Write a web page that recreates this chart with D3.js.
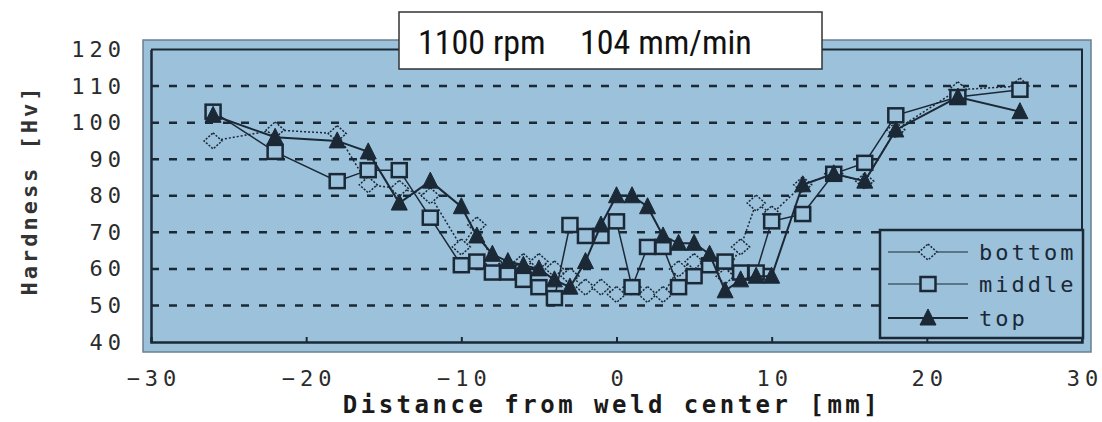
<!DOCTYPE html>
<html>
<head>
<meta charset="utf-8">
<script src="https://cdnjs.cloudflare.com/ajax/libs/d3/7.8.5/d3.min.js"></script>
<style>
    html, body { margin: 0; padding: 0; background: #ffffff; }
    svg { display: block; }
    .tick text { font-family: "DejaVu Sans Mono", monospace; font-size: 22px; fill: #2b2b2b; letter-spacing: 5px; }
</style>
</head>
<body>
<svg id="chart" width="1102" height="422"></svg>
<script>
var distance = [-26, -22, -18, -16, -14, -12, -10, -9, -8, -7, -6, -5, -4, -3, -2, -1, 0,
    1, 2, 3, 4, 5, 6, 7, 8, 9, 10, 12, 14, 16, 18, 22, 26];
var bottom = [95, 98, 97, 83, 82, 80, 66, 72, 62, 61, 62, 62, 60, 58, 55, 55, 53,
    55, 53, 53, 60, 62, 62, 58, 66, 78, 75, 83, 86, 84, 98, 109, 110];
var middle = [103, 92, 84, 87, 87, 74, 61, 62, 59, 59, 57, 55, 52, 72, 69, 69, 73,
    55, 66, 66, 55, 58, 61, 62, 59, 59, 73, 75, 86, 89, 102, 107, 109];
var top_ = [102, 96, 95, 92, 78, 84, 77, 69, 64, 62, 61, 60, 57, 55, 62, 72, 80,
    80, 77, 69, 67, 67, 64, 54, 57, 58, 58, 83, 86, 84, 98, 107, 103];
var seriesNames = ['bottom', 'middle', 'top'];
var xTicks = [-30, -20, -10, 0, 10, 20, 30];
var yTicks = [40, 50, 60, 70, 80, 90, 100, 110, 120];
var gridValues = [50, 60, 70, 80, 90, 100, 110];
var titleParts = ['1100 rpm', '104 mm/min'];

(function () {

    var BG = '#9bc1db',
        INK = '#1b2836';

    var svg = d3.select('#chart'),
        x = d3.scaleLinear().domain([-30, 30]).range([151, 1082]),
        y = d3.scaleLinear().domain([40, 120]).range([342, 49.5]);

    // outer panel
    svg.append('rect')
        .attr('x', 143).attr('y', 40)
        .attr('width', 948).attr('height', 312)
        .attr('fill', BG)
        .attr('stroke', '#687f91')
        .attr('stroke-width', 1.5);

    // dashed grid
    svg.append('g')
        .selectAll('line')
        .data(gridValues)
        .join('line')
        .attr('x1', x(-30)).attr('x2', x(30))
        .attr('y1', function (d) { return y(d); })
        .attr('y2', function (d) { return y(d); })
        .attr('stroke', INK)
        .attr('stroke-width', 2.5)
        .attr('stroke-dasharray', '8,10');

    // inner frame
    svg.append('path')
        .attr('d', 'M' + x(-30) + ',' + y(120) + 'H' + x(30) + 'V' + y(40))
        .attr('fill', 'none')
        .attr('stroke', INK)
        .attr('stroke-width', 2);

    var xAxis = svg.append('g')
        .attr('transform', 'translate(0,' + y(40) + ')')
        .call(d3.axisBottom(x)
            .tickValues(xTicks)
            .tickSize(-5)
            .tickPadding(28));
    xAxis.selectAll('.tick line')
        .attr('stroke', INK)
        .attr('stroke-width', 2)
        .filter(function (d) { return d === -30 || d === 30; })
        .remove();
    xAxis.select('.domain')
        .attr('stroke', INK)
        .attr('stroke-width', 2.5);
    xAxis.selectAll('.tick text').attr('dx', '2.5px');

    var yAxis = svg.append('g')
        .attr('transform', 'translate(' + x(-30) + ',0)')
        .call(d3.axisLeft(y)
            .tickValues(yTicks)
            .tickSize(0)
            .tickPadding(25));
    yAxis.select('.domain')
        .attr('stroke', INK)
        .attr('stroke-width', 2.5);

    // axis titles
    svg.append('text')
        .attr('x', 612).attr('y', 413)
        .attr('text-anchor', 'middle')
        .style('font-family', '"DejaVu Sans Mono", monospace')
        .style('font-weight', 'bold')
        .style('font-size', '24px')
        .style('letter-spacing', '3.5px')
        .attr('fill', '#1a1a1a')
        .text('Distance from weld center [mm]');

    svg.append('text')
        .attr('transform', 'translate(37,190) rotate(-90)')
        .attr('text-anchor', 'middle')
        .style('font-family', '"DejaVu Sans Mono", monospace')
        .style('font-weight', 'bold')
        .style('font-size', '22px')
        .style('letter-spacing', '3px')
        .attr('fill', '#333333')
        .text('Hardness [Hv]');

    var symbols = {
        bottom: function (g) {
            return g.append('path')
                .attr('d', 'M0,-8L9,0L0,8L-9,0Z')
                .attr('fill', BG)
                .attr('stroke', INK)
                .attr('stroke-width', 1.5)
                .attr('stroke-dasharray', '2,1.5');
        },
        middle: function (g) {
            return g.append('rect')
                .attr('x', -7.5).attr('y', -7)
                .attr('width', 15).attr('height', 14)
                .attr('fill', BG)
                .attr('stroke', INK)
                .attr('stroke-width', 2.5);
        },
        top: function (g) {
            return g.append('path')
                .attr('d', 'M0,-9L8,7L-8,7Z')
                .attr('fill', INK)
                .attr('stroke', INK)
                .attr('stroke-width', 1);
        }
    };

    var lineStyles = {
        bottom: { width: 1.5, dash: '2,2' },
        middle: { width: 1.5, dash: null },
        top: { width: 2, dash: null }
    };

    var seriesData = {
        bottom: bottom,
        middle: middle,
        top: top_
    };

    var line = d3.line()
        .x(function (d) { return x(d[0]); })
        .y(function (d) { return y(d[1]); });

    seriesNames.forEach(function (name) {
        var pts = distance.map(function (d, i) { return [d, seriesData[name][i]]; }),
            $layer = svg.append('g').classed('series-' + name, true);

        $layer.append('path')
            .datum(pts)
            .attr('d', line)
            .attr('fill', 'none')
            .attr('stroke', INK)
            .attr('stroke-width', lineStyles[name].width)
            .attr('stroke-dasharray', lineStyles[name].dash);

        $layer.selectAll('g.mark')
            .data(pts)
            .join('g')
            .classed('mark', true)
            .attr('transform', function (d) { return 'translate(' + x(d[0]) + ',' + y(d[1]) + ')'; })
            .each(function () { symbols[name](d3.select(this)); });
    });

    // legend
    var $legend = svg.append('g');
    $legend.append('rect')
        .attr('x', 880).attr('y', 230)
        .attr('width', 203).attr('height', 108)
        .attr('fill', BG)
        .attr('stroke', INK)
        .attr('stroke-width', 2.5);

    var legendY = [252, 284, 318];
    seriesNames.forEach(function (name, i) {
        var $row = $legend.append('g')
            .attr('transform', 'translate(0,' + legendY[i] + ')');
        $row.append('line')
            .attr('x1', 888).attr('x2', 968)
            .attr('stroke', INK)
            .attr('stroke-width', name === 'top' ? 2 : 1.2);
        symbols[name]($row.append('g').attr('transform', 'translate(928,0)'));
        $row.append('text')
            .attr('x', 979).attr('dy', '0.35em')
            .style('font-family', '"DejaVu Sans Mono", monospace')
            .style('font-size', '22px')
            .style('letter-spacing', '3px')
            .attr('fill', INK)
            .text(name);
    });

    // title box
    svg.append('rect')
        .attr('x', 399).attr('y', 12)
        .attr('width', 423).attr('height', 57)
        .attr('fill', '#ffffff')
        .attr('stroke', '#333333')
        .attr('stroke-width', 1.5);

    svg.selectAll('text.title')
        .data(titleParts)
        .join('text')
        .classed('title', true)
        .attr('x', function (d, i) { return i === 0 ? 418 : 580; })
        .attr('y', 54)
        .style('font-family', '"Liberation Sans Narrow", "Roboto Condensed", "Noto Sans", sans-serif')
        .style('font-size', '34px')
        .attr('fill', '#111111')
        .text(function (d) { return d; });

})();
</script>
</body>
</html>
